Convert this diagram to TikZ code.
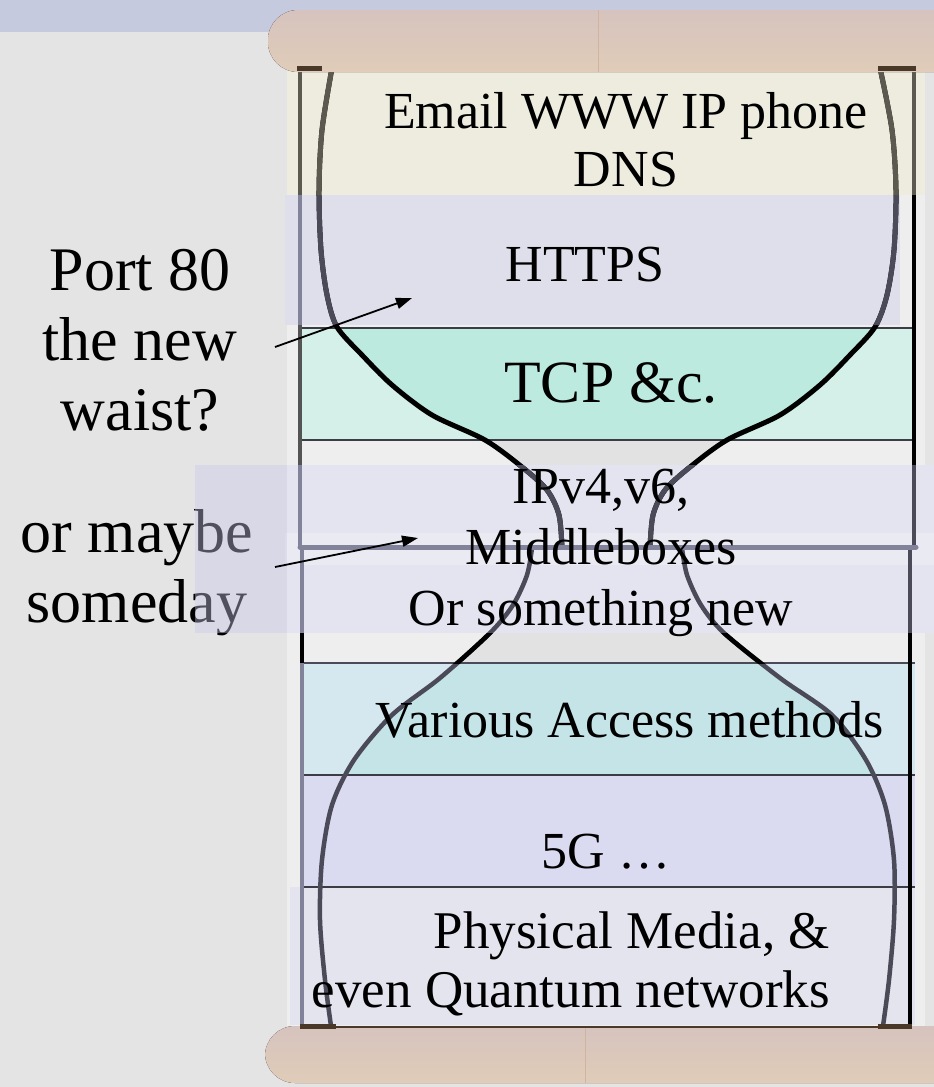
\documentclass[tikz,border=0pt]{standalone}
\usepackage{fontspec}
\setmainfont{Liberation Serif}
\usetikzlibrary{arrows.meta}
\definecolor{bg}{HTML}{E4E4E4}
\definecolor{strip}{HTML}{C5CADF}
\definecolor{inbox}{HTML}{EEEEEE}
\definecolor{appc}{HTML}{EEECDF}
\definecolor{httpc}{HTML}{DFDFEC}
\definecolor{tcpc}{HTML}{D4F0E8}
\definecolor{tcpin}{HTML}{BCEADE}
\definecolor{gapin}{HTML}{E2E2E2}
\definecolor{ipc}{HTML}{E4E4F0}
\definecolor{ipveil}{HTML}{C8C8EB}
\definecolor{accc}{HTML}{D5E8EF}
\definecolor{accin}{HTML}{C5E4E8}
\definecolor{fivec}{HTML}{DADAF0}
\definecolor{physc}{HTML}{E4E4EE}
\definecolor{woodtop}{HTML}{D6C3BE}
\definecolor{woodbot}{HTML}{E0CCB8}
\definecolor{woodline}{HTML}{D2B49E}
\definecolor{capc}{HTML}{4A3828}
\definecolor{curvegray}{HTML}{4A4A58}
\definecolor{curveapp}{HTML}{5C5A50}
\definecolor{postgray}{HTML}{82829A}
\definecolor{layerline}{HTML}{3C3C44}
\begin{document}
\begin{tikzpicture}[x=1pt,y=-1pt,
  txt/.style={font=\fontsize{52}{60}\selectfont, align=center, inner sep=0pt},
  sidetxt/.style={font=\fontsize{62}{70}\selectfont, align=center, inner sep=0pt},
  upcurve/.style={line width=5pt},
  lowcurve/.style={line width=4.5pt, draw=curvegray},
  post/.style={line width=4pt},
  wood/.style={rounded corners=30pt, top color=woodtop, bottom color=woodbot, draw=none},
  pointer/.style={line width=1.8pt, -{Triangle[length=16pt,width=11pt]}},
  sep/.style={draw=layerline, line width=1.5pt}]

\useasboundingbox (0,0) rectangle (934,1087);
\clip (0,0) rectangle (934,1087);

% background
\fill[bg] (0,0) rectangle (934,1087);
\fill[strip] (0,0) rectangle (934,32);

% inner light box
\fill[inbox] (287,68) rectangle (925,1028);

% bands
\fill[appc] (287,68) rectangle (925,195);
\fill[httpc] (285,195) rectangle (900,325);
\fill[tcpc] (300,328) rectangle (915,440);
\fill[ipc] (287,465) rectangle (934,633);
\fill[accc] (300,663) rectangle (915,775);
\fill[fivec] (300,775) rectangle (915,887);
\fill[physc] (290,887) rectangle (915,1025);

% saved hourglass curves
\path[save path=\pUL] plot[smooth] coordinates {(332,68) (322,130) (319,190) (321,250) (327,295) (337,327) (362,355) (392,385) (432,415) (485,440) (522,467) (547,490) (559,515) (562,548)};
\path[save path=\pUR] plot[smooth] coordinates {(880,68) (892,130) (896,190) (894,250) (887,295) (875,327) (850,355) (820,385) (780,415) (727,440) (690,467) (665,490) (653,515) (650,548)};
\path[save path=\pLL] plot[smooth] coordinates {(532,548) (527,575) (513,605) (490,633) (440,678) (392,715) (354,760) (332,805) (322,860) (320,920) (325,980) (331,1026)};
\path[save path=\pLR] plot[smooth] coordinates {(682,548) (687,575) (701,605) (724,633) (780,678) (832,715) (866,760) (885,805) (894,860) (894,920) (889,980) (883,1026)};

% interior fills (upper)
\begin{scope}
  \clip plot[smooth] coordinates {(332,68) (322,130) (319,190) (321,250) (327,295) (337,327) (362,355) (392,385) (432,415) (485,440) (522,467) (547,490) (559,515) (562,548)}
     -- plot[smooth] coordinates {(650,548) (653,515) (665,490) (690,467) (727,440) (780,415) (820,385) (850,355) (875,327) (887,295) (894,250) (896,190) (892,130) (880,68)} -- cycle;
  \fill[tcpin] (300,328) rectangle (915,440);
  \fill[gapin] (300,440) rectangle (915,465);
\end{scope}
% interior fills (lower)
\begin{scope}
  \clip plot[smooth] coordinates {(532,548) (527,575) (513,605) (490,633) (440,678) (392,715) (354,760) (332,805) (322,860) (320,920) (325,980) (331,1026)}
     -- plot[smooth] coordinates {(883,1026) (889,980) (894,920) (894,860) (885,805) (866,760) (832,715) (780,678) (724,633) (701,605) (687,575) (682,548)} -- cycle;
  \fill[gapin] (300,633) rectangle (915,663);
  \fill[accin] (300,663) rectangle (915,775);
\end{scope}

% separator lines
\draw[sep] (300,328) -- (915,328);
\draw[sep] (300,440) -- (915,440);
\draw[sep, draw=curvegray] (300,663) -- (915,663);
\draw[sep] (300,775) -- (915,775);
\draw[sep] (300,887) -- (915,887);

% lighter strip across the IP band
\fill[white, opacity=0.25] (285,533) rectangle (934,565);

% upper curves
\draw[upcurve, use path=\pUL];
\draw[upcurve, use path=\pUR];
\begin{scope}
  \clip (0,60) rectangle (934,195);
  \draw[upcurve, draw=curveapp, use path=\pUL];
  \draw[upcurve, draw=curveapp, use path=\pUR];
\end{scope}
\begin{scope}
  \clip (0,195) rectangle (934,325) (0,465) rectangle (934,560);
  \draw[upcurve, draw=curvegray, use path=\pUL];
  \draw[upcurve, draw=curvegray, use path=\pUR];
\end{scope}
% lower curves
\draw[lowcurve, use path=\pLL];
\draw[lowcurve, use path=\pLR];
\begin{scope}
  \clip (0,633) rectangle (934,663);
  \draw[lowcurve, draw=black, use path=\pLL];
  \draw[lowcurve, draw=black, use path=\pLR];
\end{scope}

% frame posts (upper box)
\draw[post, draw=black!67] (300,68) -- (300,548);
\draw[post, draw=curveapp] (300,68) -- (300,195);
\draw[post, draw=postgray] (300,195) -- (300,325);
\draw[post, draw=postgray] (300,465) -- (300,548);
\draw[post, draw=black] (914,68) -- (914,548);
\draw[post, draw=curveapp] (914,68) -- (914,195);
\draw[post, draw=curvegray] (914,465) -- (914,548);
\draw[line width=5pt, draw=postgray, line cap=round] (300,547) -- (916,547);
% frame posts (lower box)
\draw[post, draw=postgray] (302,550) -- (302,1028);
\draw[post, draw=black] (302,633) -- (302,663);
\draw[post, draw=curvegray] (910,550) -- (910,633);
\draw[post, draw=black] (910,633) -- (910,1028);

% wooden bars
\fill[wood] (268,10) rectangle (990,72);
\draw[woodline, line width=0.8pt] (598,10) -- (598,72);
\fill[wood] (265,1026) rectangle (990,1083);
\draw[woodline, line width=0.8pt] (585,1026) -- (585,1083);
\draw[capc, line width=2.5pt] (300,1027) -- (912,1027);

% caps
\fill[capc] (297,66) rectangle (322,71);
\fill[capc] (878,66) rectangle (916,71);
\fill[capc] (300,1024) rectangle (336,1029);
\fill[capc] (878,1024) rectangle (912,1029);

% side notes
\node[sidetxt] (port) at (140,340) {Port 80\\the new\\waist?};
\node[sidetxt] (maybe) at (137,573) {or maybe\\someday};

% veil of the IP band over the side note
\fill[ipveil, opacity=0.4] (195,465) rectangle (287,633);

% arrows
\coordinate (p1s) at (275,347);
\coordinate (p1e) at (412,298);
\coordinate (p2s) at (275,567);
\coordinate (p2e) at (418,538);
\draw[pointer] (p1s) -- (p1e);
\draw[pointer] (p2s) -- (p2e);

% layer texts
\node[txt, font=\fontsize{52}{58}\selectfont] (app) at (626,140) {Email WWW IP phone\\DNS};
\node[txt] (https) at (585,265) {HTTPS};
\node[txt, font=\fontsize{60}{66}\selectfont] (tcp) at (611,383) {TCP \&c.};
\node[txt, font=\fontsize{52}{61}\selectfont] (ip) at (601,553) {IPv4,v6,\\Middleboxes\\Or something new};
\node[txt, font=\fontsize{52}{58}\selectfont] (acc) at (630,720) {Various Access methods};
\node[txt] (fiveg) at (606,852) {5G …};
\node[txt, align=right, anchor=east, font=\fontsize{53}{59}\selectfont] (phys) at (830,964) {Physical Media, \&\\even Quantum networks};

\end{tikzpicture}
\end{document}
